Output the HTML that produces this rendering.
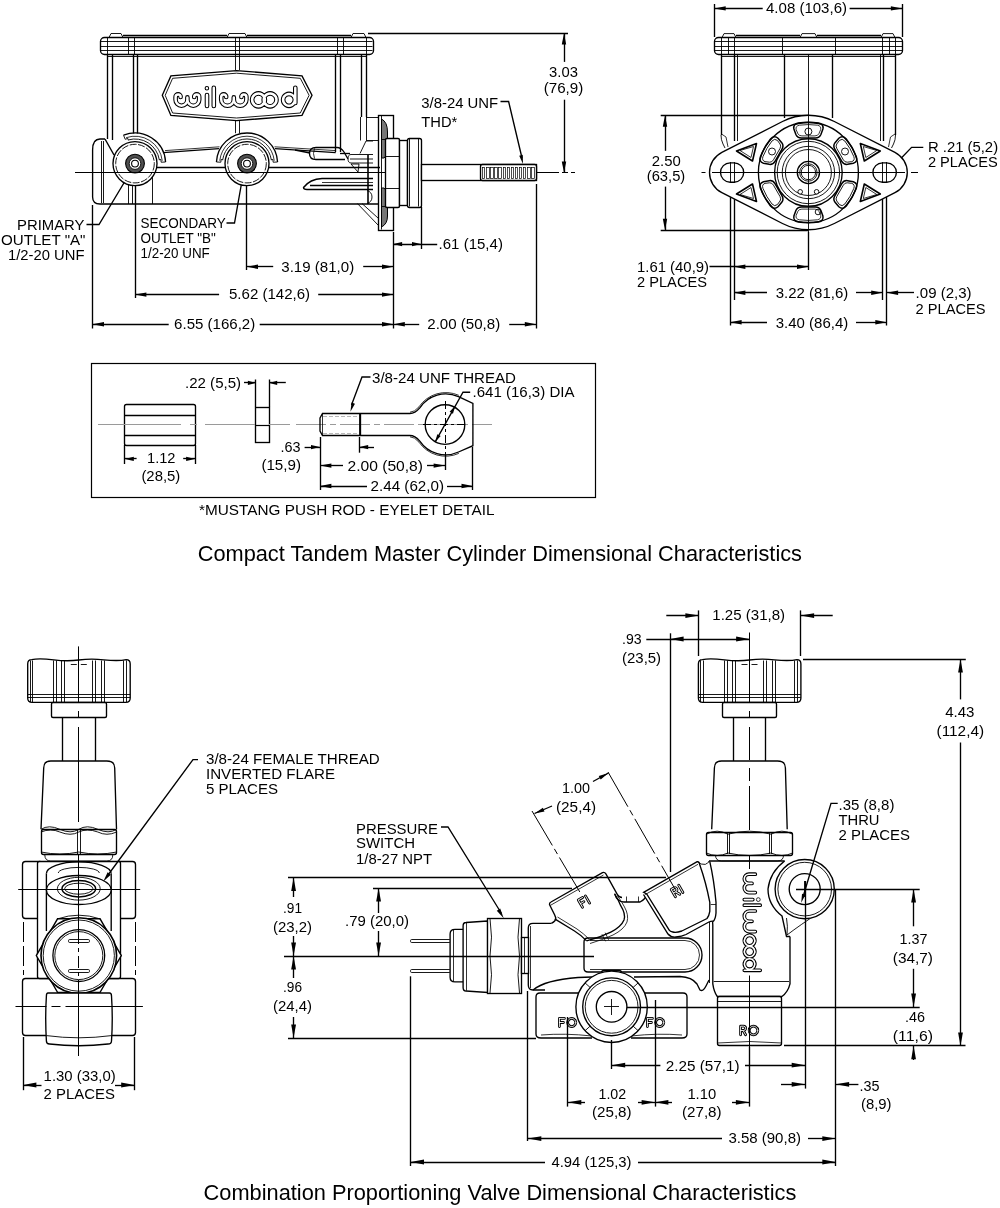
<!DOCTYPE html>
<html><head><meta charset="utf-8"><style>
html,body{margin:0;padding:0;background:#fff;width:1000px;height:1208px;overflow:hidden}
svg{display:block;will-change:transform}
text{font-family:"Liberation Sans",sans-serif;fill:#000;stroke:none}
</style></head><body>
<svg width="1000" height="1208" viewBox="0 0 1000 1208" stroke="#000" stroke-linecap="butt" fill="none">
<text x="84.5" y="229.5" font-size="15" text-anchor="end" textLength="67.5" lengthAdjust="spacingAndGlyphs" >PRIMARY</text>
<text x="85.5" y="245" font-size="15" text-anchor="end" textLength="84.5" lengthAdjust="spacingAndGlyphs" >OUTLET &quot;A&quot;</text>
<text x="84.5" y="260" font-size="15" text-anchor="end" textLength="76.5" lengthAdjust="spacingAndGlyphs" >1/2-20 UNF</text>
<polyline points="86.5,224.5 99,224.5 130.5,172" fill="none" stroke-width="1.35" />
<polygon points="131.5,170.5 128.4,179.14 125.32,177.28" fill="#000" stroke="none"/>
<text x="140.5" y="227.8" font-size="15" textLength="85.3" lengthAdjust="spacingAndGlyphs" >SECONDARY</text>
<text x="140.5" y="243" font-size="15" textLength="75.4" lengthAdjust="spacingAndGlyphs" >OUTLET &quot;B&quot;</text>
<text x="140.5" y="258.4" font-size="15" textLength="69.3" lengthAdjust="spacingAndGlyphs" >1/2-20 UNF</text>
<polyline points="226.5,223 234.5,223 243,175" fill="none" stroke-width="1.35" />
<polygon points="243.6,171.5 243.81,180.68 240.26,180.05" fill="#000" stroke="none"/>
<line x1="135.5" y1="168" x2="135.5" y2="298" stroke-width="1.35" />
<line x1="246.5" y1="168" x2="246.5" y2="270" stroke-width="1.35" />
<line x1="92.5" y1="205" x2="92.5" y2="328.5" stroke-width="1.35" />
<line x1="393.5" y1="232" x2="393.5" y2="328.5" stroke-width="1.35" />
<line x1="536.5" y1="184" x2="536.5" y2="328.5" stroke-width="1.35" />
<line x1="421.5" y1="207" x2="421.5" y2="249" stroke-width="1.35" />
<line x1="246.6" y1="266.5" x2="273.2" y2="266.5" stroke-width="1.35" />
<line x1="363.2" y1="266.5" x2="393.4" y2="266.5" stroke-width="1.35" />
<polygon points="246.6,266.7 258,264.5 258,268.9" fill="#000" stroke="none"/>
<polygon points="393.4,266.7 382,268.9 382,264.5" fill="#000" stroke="none"/>
<text x="281.3" y="271.6" font-size="15" textLength="72.9" lengthAdjust="spacingAndGlyphs" >3.19 (81,0)</text>
<line x1="135" y1="294.5" x2="219.1" y2="294.5" stroke-width="1.35" />
<line x1="318.2" y1="294.5" x2="393.4" y2="294.5" stroke-width="1.35" />
<polygon points="135,294.6 146.4,292.4 146.4,296.8" fill="#000" stroke="none"/>
<polygon points="393.4,294.6 382,296.8 382,292.4" fill="#000" stroke="none"/>
<text x="229" y="299.2" font-size="15" textLength="81.1" lengthAdjust="spacingAndGlyphs" >5.62 (142,6)</text>
<line x1="92.6" y1="324.5" x2="168.7" y2="324.5" stroke-width="1.35" />
<line x1="259.7" y1="324.5" x2="393.4" y2="324.5" stroke-width="1.35" />
<polygon points="92.6,324.2 104,322 104,326.4" fill="#000" stroke="none"/>
<polygon points="393.4,324.2 382,326.4 382,322" fill="#000" stroke="none"/>
<text x="174.1" y="329.2" font-size="15" textLength="81.1" lengthAdjust="spacingAndGlyphs" >6.55 (166,2)</text>
<line x1="393.4" y1="324.5" x2="419.2" y2="324.5" stroke-width="1.35" />
<line x1="509.2" y1="324.5" x2="536.2" y2="324.5" stroke-width="1.35" />
<polygon points="393.4,324.2 404.8,322 404.8,326.4" fill="#000" stroke="none"/>
<polygon points="536.2,324.2 524.8,326.4 524.8,322" fill="#000" stroke="none"/>
<text x="427.3" y="329.2" font-size="15" textLength="72.9" lengthAdjust="spacingAndGlyphs" >2.00 (50,8)</text>
<line x1="393.1" y1="244.5" x2="437.2" y2="244.5" stroke-width="1.35" />
<polygon points="393.1,244.1 402.1,241.9 402.1,246.3" fill="#000" stroke="none"/>
<polygon points="421,244.1 412,246.3 412,241.9" fill="#000" stroke="none"/>
<text x="438.6" y="249" font-size="15" textLength="64.3" lengthAdjust="spacingAndGlyphs" >.61 (15,4)</text>
<line x1="368" y1="33.5" x2="568" y2="33.5" stroke-width="1.35" />
<line x1="564.5" y1="33.1" x2="564.5" y2="61.9" stroke-width="1.35" />
<line x1="564.5" y1="99.7" x2="564.5" y2="173" stroke-width="1.35" />
<polygon points="564,33.1 566.2,44.5 561.8,44.5" fill="#000" stroke="none"/>
<polygon points="564,173 561.8,161.6 566.2,161.6" fill="#000" stroke="none"/>
<text x="563.5" y="77.2" font-size="15" text-anchor="middle" textLength="28.8" lengthAdjust="spacingAndGlyphs" >3.03</text>
<text x="563.5" y="92.5" font-size="15" text-anchor="middle" textLength="39.6" lengthAdjust="spacingAndGlyphs" >(76,9)</text>
<text x="421.3" y="108.2" font-size="15" textLength="76.9" lengthAdjust="spacingAndGlyphs" >3/8-24 UNF</text>
<text x="421.3" y="126.7" font-size="15" textLength="36" lengthAdjust="spacingAndGlyphs" >THD*</text>
<polyline points="500.5,101.5 508.6,101.5 522,158" fill="none" stroke-width="1.35" />
<polygon points="523,164 519.23,155.63 522.73,154.83" fill="#000" stroke="none"/>
<line x1="714.5" y1="4" x2="714.5" y2="37" stroke-width="1.35" />
<line x1="902.5" y1="4" x2="902.5" y2="37" stroke-width="1.35" />
<line x1="714.3" y1="8.5" x2="762.7" y2="8.5" stroke-width="1.35" />
<line x1="849.6" y1="8.5" x2="902.3" y2="8.5" stroke-width="1.35" />
<polygon points="714.3,8.4 725.7,6.2 725.7,10.6" fill="#000" stroke="none"/>
<polygon points="902.3,8.4 890.9,10.6 890.9,6.2" fill="#000" stroke="none"/>
<text x="766" y="13.4" font-size="15" textLength="81" lengthAdjust="spacingAndGlyphs" >4.08 (103,6)</text>
<line x1="660.7" y1="115.5" x2="808" y2="115.5" stroke-width="1.35" />
<line x1="660.7" y1="230.5" x2="808" y2="230.5" stroke-width="1.35" />
<line x1="665.5" y1="115.3" x2="665.5" y2="150.8" stroke-width="1.35" />
<line x1="665.5" y1="186.6" x2="665.5" y2="230.1" stroke-width="1.35" />
<polygon points="665,115.3 667.2,126.7 662.8,126.7" fill="#000" stroke="none"/>
<polygon points="665,230.1 662.8,218.7 667.2,218.7" fill="#000" stroke="none"/>
<text x="666.3" y="165.9" font-size="15" text-anchor="middle" textLength="29" lengthAdjust="spacingAndGlyphs" >2.50</text>
<text x="666" y="181" font-size="15" text-anchor="middle" textLength="38.5" lengthAdjust="spacingAndGlyphs" >(63,5)</text>
<text x="927.9" y="151.5" font-size="15" textLength="70.2" lengthAdjust="spacingAndGlyphs" >R .21 (5,2)</text>
<text x="927.9" y="166.8" font-size="15" textLength="70" lengthAdjust="spacingAndGlyphs" >2 PLACES</text>
<polyline points="923.3,147.3 911.6,147.3 897,162.5" fill="none" stroke-width="1.35" />
<polygon points="894.7,165.3 899.55,157.51 902.17,159.97" fill="#000" stroke="none"/>
<line x1="730.5" y1="172" x2="730.5" y2="325.5" stroke-width="1.35" />
<line x1="734.5" y1="180" x2="734.5" y2="300" stroke-width="1.35" />
<line x1="882.5" y1="180" x2="882.5" y2="300" stroke-width="1.35" />
<line x1="886.5" y1="172" x2="886.5" y2="325.5" stroke-width="1.35" />
<line x1="808.5" y1="232" x2="808.5" y2="270" stroke-width="1.35" />
<line x1="709.5" y1="266.5" x2="808.4" y2="266.5" stroke-width="1.35" />
<polygon points="734,266.8 745.4,264.6 745.4,269" fill="#000" stroke="none"/>
<polygon points="808.4,266.8 797,269 797,264.6" fill="#000" stroke="none"/>
<text x="637" y="271.8" font-size="15" textLength="72" lengthAdjust="spacingAndGlyphs" >1.61 (40,9)</text>
<text x="637" y="286.5" font-size="15" textLength="70" lengthAdjust="spacingAndGlyphs" >2 PLACES</text>
<line x1="734" y1="292.5" x2="767" y2="292.5" stroke-width="1.35" />
<line x1="856" y1="292.5" x2="882.6" y2="292.5" stroke-width="1.35" />
<polygon points="734,292.7 745.4,290.5 745.4,294.9" fill="#000" stroke="none"/>
<polygon points="882.6,292.7 871.2,294.9 871.2,290.5" fill="#000" stroke="none"/>
<text x="775.8" y="298.4" font-size="15" textLength="72.4" lengthAdjust="spacingAndGlyphs" >3.22 (81,6)</text>
<line x1="886.7" y1="292.5" x2="914" y2="292.5" stroke-width="1.35" />
<polygon points="886.7,292.7 898.1,290.5 898.1,294.9" fill="#000" stroke="none"/>
<text x="915.6" y="298.4" font-size="15" textLength="56" lengthAdjust="spacingAndGlyphs" >.09 (2,3)</text>
<text x="915.6" y="313.6" font-size="15" textLength="70" lengthAdjust="spacingAndGlyphs" >2 PLACES</text>
<line x1="730.2" y1="322.5" x2="767" y2="322.5" stroke-width="1.35" />
<line x1="856" y1="322.5" x2="886.7" y2="322.5" stroke-width="1.35" />
<polygon points="730.2,322.3 741.6,320.1 741.6,324.5" fill="#000" stroke="none"/>
<polygon points="886.7,322.3 875.3,324.5 875.3,320.1" fill="#000" stroke="none"/>
<text x="775.8" y="328" font-size="15" textLength="72.4" lengthAdjust="spacingAndGlyphs" >3.40 (86,4)</text>
<rect x="91.5" y="363.5" width="504" height="134" rx="0" fill="none" stroke-width="1.2" />
<rect x="100.5" y="37.5" width="273" height="17" rx="4" fill="none" stroke-width="1.35" />
<line x1="101" y1="41.5" x2="372.5" y2="41.5" stroke-width="0.9" />
<line x1="101" y1="46.5" x2="372.5" y2="46.5" stroke-width="0.9" />
<line x1="101" y1="50.5" x2="372.5" y2="50.5" stroke-width="0.9" />
<line x1="107.5" y1="38" x2="107.5" y2="54" stroke-width="0.9" />
<line x1="128.5" y1="38" x2="128.5" y2="54" stroke-width="0.9" />
<line x1="134.5" y1="38" x2="134.5" y2="54" stroke-width="0.9" />
<line x1="235.5" y1="38" x2="235.5" y2="54" stroke-width="0.9" />
<line x1="239.5" y1="38" x2="239.5" y2="54" stroke-width="0.9" />
<line x1="337.5" y1="38" x2="337.5" y2="54" stroke-width="0.9" />
<line x1="343.5" y1="38" x2="343.5" y2="54" stroke-width="0.9" />
<line x1="366.5" y1="38" x2="366.5" y2="54" stroke-width="0.9" />
<path d="M109,37.5 L111,33.5 L121,33.5 L123,37.5" fill="none" stroke-width="0.9" />
<path d="M227,37.5 L229,33.5 L245,33.5 L247,37.5" fill="none" stroke-width="0.9" />
<path d="M351,37.5 L353,33.5 L364,33.5 L366,37.5" fill="none" stroke-width="0.9" />
<line x1="123" y1="35.5" x2="227" y2="35.5" stroke-width="1.6" />
<line x1="247" y1="35.5" x2="351" y2="35.5" stroke-width="1.6" />
<line x1="107.5" y1="54" x2="107.5" y2="135" stroke-width="1.35" />
<line x1="112.5" y1="54" x2="112.5" y2="140" stroke-width="1.35" />
<line x1="133.5" y1="54" x2="133.5" y2="133.5" stroke-width="1.35" />
<line x1="137.5" y1="54" x2="137.5" y2="133.5" stroke-width="1.35" />
<line x1="235.5" y1="54" x2="235.5" y2="70" stroke-width="0.9" />
<line x1="239.5" y1="54" x2="239.5" y2="70" stroke-width="0.9" />
<line x1="235.5" y1="120.6" x2="235.5" y2="133.2" stroke-width="0.9" />
<line x1="239.5" y1="120.6" x2="239.5" y2="133.2" stroke-width="0.9" />
<line x1="335.5" y1="54" x2="335.5" y2="152" stroke-width="1.35" />
<line x1="340.5" y1="54" x2="340.5" y2="152" stroke-width="1.35" />
<line x1="361.5" y1="54" x2="361.5" y2="117" stroke-width="1.35" />
<line x1="366.5" y1="54" x2="366.5" y2="117" stroke-width="1.35" />
<polygon points="162.3,95.3 170.9,75.9 236.5,70.6 302,75.9 312,95.3 302,115.4 236.5,120.6 170.9,115.4" fill="none" stroke-width="1.35" />
<polygon points="165.2,95.3 172.6,78.3 236.5,73.2 300.3,78.3 309.1,95.3 300.3,113 236.5,118 172.6,113" fill="none" stroke-width="0.9" />
<path d="M180.6,96.9 A2.5,2.5 0 0 0 175.6,96.9 L175.6,99.8 A5.9,5.9 0 0 0 187.4,99.8 L187.4,97.4 M187.4,99.8 A5.9,5.9 0 0 0 199.2,99.8 L199.2,96.9 A2.5,2.5 0 0 0 194.2,96.9 M207,95 L207,105.9 M206.9,88.3 L206.9,88.31 M213.8,87.7 L213.8,105.9 M226.2,96.9 A2.5,2.5 0 0 0 221.2,96.9 L221.2,99.4 A6.3,6.3 0 0 0 233.8,99.4 L233.8,97.4 M233.8,99.4 A6.3,6.3 0 0 0 246.4,99.4 L246.4,96.9 A2.5,2.5 0 0 0 241.4,96.9 M264.9,99.85 A6.4,6.4 0 1 0 264.9,99.86 M276.5,99.85 A6.4,6.4 0 1 0 276.5,99.86 M294.9,99.85 A5.9,5.9 0 1 0 294.9,99.86 M295.3,87.8 L295.3,103" fill="none" stroke-width="4.6" stroke-linecap="round"/>
<path d="M180.6,96.9 A2.5,2.5 0 0 0 175.6,96.9 L175.6,99.8 A5.9,5.9 0 0 0 187.4,99.8 L187.4,97.4 M187.4,99.8 A5.9,5.9 0 0 0 199.2,99.8 L199.2,96.9 A2.5,2.5 0 0 0 194.2,96.9 M207,95 L207,105.9 M206.9,88.3 L206.9,88.31 M213.8,87.7 L213.8,105.9 M226.2,96.9 A2.5,2.5 0 0 0 221.2,96.9 L221.2,99.4 A6.3,6.3 0 0 0 233.8,99.4 L233.8,97.4 M233.8,99.4 A6.3,6.3 0 0 0 246.4,99.4 L246.4,96.9 A2.5,2.5 0 0 0 241.4,96.9 M264.9,99.85 A6.4,6.4 0 1 0 264.9,99.86 M276.5,99.85 A6.4,6.4 0 1 0 276.5,99.86 M294.9,99.85 A5.9,5.9 0 1 0 294.9,99.86 M295.3,87.8 L295.3,103" fill="none" stroke-width="2.5" stroke="#fff" stroke-linecap="round"/>
<path d="M105,139 L100,139 Q92.6,139 92.6,150 L92.6,197 Q92.6,204 100,204 L378,204" fill="none" stroke-width="1.35" />
<line x1="101.5" y1="141" x2="101.5" y2="203" stroke-width="0.9" />
<line x1="103.5" y1="141" x2="103.5" y2="203" stroke-width="0.9" />
<line x1="152" y1="167.5" x2="380" y2="167.5" stroke-width="1.35" />
<path d="M105,139 L114,155" fill="none" stroke-width="1.35" />
<line x1="107.5" y1="135" x2="107.5" y2="139" stroke-width="1.35" />
<path d="M163,152.6 L219,148.6" fill="none" stroke-width="1.35" />
<path d="M165,150.6 L219.5,146.8" fill="none" stroke-width="0.8" />
<path d="M275,148.6 L335.7,152.6" fill="none" stroke-width="1.35" />
<path d="M274.5,146.8 L335.7,150.6" fill="none" stroke-width="0.8" />
<line x1="340" y1="153.5" x2="350" y2="153.5" stroke-width="1.35" />
<line x1="128.5" y1="185" x2="128.5" y2="204" stroke-width="0.9" />
<line x1="132.5" y1="185" x2="132.5" y2="204" stroke-width="0.9" />
<line x1="152.5" y1="167" x2="152.5" y2="204" stroke-width="0.9" />
<path d="M123.54,135.23 A30.6,30.6 0 0 1 165.56,162" fill="none" stroke-width="1.35" />
<path d="M126.08,137.69 A27.4,27.4 0 0 1 162.25,160.74" fill="none" stroke-width="0.8" />
<path d="M128.22,139.95 A24.6,24.6 0 0 1 159.3,159.75" fill="none" stroke-width="0.9" />
<path d="M123.54,135.23 L125.19,139.31 L127.78,138.41 L128.33,140.34" fill="none" stroke-width="0.9" />
<path d="M165.56,162 L161.16,162.23 L160.88,159.5 L158.9,159.81" fill="none" stroke-width="0.9" />
<path d="M216.44,162 A30.6,30.6 0 0 1 277.56,162" fill="none" stroke-width="1.35" />
<path d="M219.75,160.74 A27.4,27.4 0 0 1 274.25,160.74" fill="none" stroke-width="0.8" />
<path d="M222.7,159.75 A24.6,24.6 0 0 1 271.3,159.75" fill="none" stroke-width="0.9" />
<path d="M216.44,162 L220.84,162.23 L221.12,159.5 L223.1,159.81" fill="none" stroke-width="0.9" />
<path d="M277.56,162 L273.16,162.23 L272.88,159.5 L270.9,159.81" fill="none" stroke-width="0.9" />
<circle cx="135" cy="163.6" r="22" fill="#fff" stroke-width="1.35" />
<circle cx="135" cy="163.6" r="19.3" fill="none" stroke-width="0.9" stroke-dasharray="7 1.5"/>
<circle cx="135" cy="163.6" r="7.6" fill="none" stroke-width="3.6" stroke="#505050"/>
<circle cx="135" cy="163.6" r="9.4" fill="none" stroke-width="1.1" />
<circle cx="135" cy="163.6" r="5.8" fill="none" stroke-width="0.9" />
<circle cx="135" cy="163.6" r="3.4" fill="none" stroke-width="1.1" />
<circle cx="247" cy="163.6" r="22" fill="#fff" stroke-width="1.35" />
<circle cx="247" cy="163.6" r="19.3" fill="none" stroke-width="0.9" stroke-dasharray="7 1.5"/>
<circle cx="247" cy="163.6" r="7.6" fill="none" stroke-width="3.6" stroke="#505050"/>
<circle cx="247" cy="163.6" r="9.4" fill="none" stroke-width="1.1" />
<circle cx="247" cy="163.6" r="5.8" fill="none" stroke-width="0.9" />
<circle cx="247" cy="163.6" r="3.4" fill="none" stroke-width="1.1" />
<line x1="75" y1="172.5" x2="545" y2="172.5" stroke-width="1.0" />
<line x1="545" y1="172.5" x2="575" y2="172.5" stroke-width="1.0" stroke-dasharray="14 3 6 3" stroke="#000"/>
<rect x="366.5" y="117.5" width="12" height="23" rx="0" fill="none" stroke-width="0.9" />
<line x1="357.4" y1="203.5" x2="378" y2="225" stroke-width="0.9" />
<line x1="362" y1="203.5" x2="378" y2="218" stroke-width="0.9" />
<rect x="378.5" y="115.5" width="15" height="115" rx="0" fill="none" stroke-width="1.35" />
<line x1="381.5" y1="116" x2="381.5" y2="229.5" stroke-width="0.9" />
<path d="M381.5,119 Q387.5,122 387.5,132 L387.5,150 Q387.5,156 384,158 L381.5,158 Z" fill="#777" stroke-width="1.0" />
<path d="M381.5,188 L384,188 Q387.5,190 387.5,196 L387.5,216 Q387.5,224 381.5,227 Z" fill="#777" stroke-width="1.0" />
<line x1="381.5" y1="139.5" x2="386" y2="139.5" stroke-width="0.9" />
<line x1="381.5" y1="206.5" x2="386" y2="206.5" stroke-width="0.9" />
<rect x="385.5" y="138.5" width="14" height="69" rx="1.5" fill="#fff" stroke-width="1.35" />
<line x1="385.8" y1="156.5" x2="399.7" y2="156.5" stroke-width="0.9" />
<line x1="385.8" y1="188.5" x2="399.7" y2="188.5" stroke-width="0.9" />
<rect x="399.5" y="140.5" width="8" height="65" rx="0" fill="#fff" stroke-width="1.35" />
<rect x="407.5" y="138.5" width="14" height="69" rx="2" fill="#fff" stroke-width="1.35" />
<line x1="409.5" y1="139" x2="409.5" y2="206.5" stroke-width="0.9" />
<line x1="418.5" y1="139" x2="418.5" y2="206.5" stroke-width="0.9" />
<rect x="421.5" y="164.5" width="115" height="16" rx="0" fill="#fff" stroke-width="1.35" />
<rect x="480.5" y="164.5" width="56" height="16" rx="2" fill="#fff" stroke-width="1.35" />
<rect x="482.5" y="167.5" width="2" height="11" rx="0" fill="none" stroke-width="0.7" />
<rect x="486.5" y="167.5" width="3" height="11" rx="0" fill="none" stroke-width="0.7" />
<rect x="490.5" y="167.5" width="3" height="11" rx="0" fill="none" stroke-width="0.7" />
<rect x="494.5" y="167.5" width="3" height="11" rx="0" fill="none" stroke-width="0.7" />
<rect x="498.5" y="167.5" width="3" height="11" rx="0" fill="none" stroke-width="0.7" />
<rect x="503.5" y="167.5" width="2" height="11" rx="0" fill="none" stroke-width="0.7" />
<rect x="507.5" y="167.5" width="2" height="11" rx="0" fill="none" stroke-width="0.7" />
<rect x="511.5" y="167.5" width="2" height="11" rx="0" fill="none" stroke-width="0.7" />
<rect x="515.5" y="167.5" width="2" height="11" rx="0" fill="none" stroke-width="0.7" />
<rect x="519.5" y="167.5" width="2" height="11" rx="0" fill="none" stroke-width="0.7" />
<rect x="523.5" y="167.5" width="2" height="11" rx="0" fill="none" stroke-width="0.7" />
<rect x="527.5" y="167.5" width="3" height="11" rx="0" fill="none" stroke-width="0.7" />
<rect x="531.5" y="167.5" width="3" height="11" rx="0" fill="none" stroke-width="0.7" />
<path d="M295,150 L310,153" fill="none" stroke-width="1.35" />
<path d="M337,147.5 L316,147.5 Q309.5,147.5 309.5,153.5 Q309.5,159.5 316,159.5 L345,159.5" fill="none" stroke-width="1.35" />
<path d="M314.5,148.5 Q312.5,153.5 314.5,158.5" fill="none" stroke-width="0.8" />
<path d="M337,147.5 Q341,147.5 344,152 L348,159" fill="none" stroke-width="1.35" />
<path d="M373,154.5 L351,154.5 Q348,154.5 348,158.7 Q348,163 351,163 L373,163 M350,159 L373,159" fill="none" stroke-width="0.9" />
<path d="M360,153.5 L366,141 L373,141" fill="none" stroke-width="0.9" />
<polygon points="351,164 359,164 358,172" fill="none" stroke-width="0.9" />
<path d="M373,178.5 L322,178.5 Q310,179 303.5,187.5 Q303.5,189.5 307,189.5 L373,189.5" fill="none" stroke-width="1.35" />
<line x1="322" y1="182.5" x2="373" y2="182.5" stroke-width="0.8" />
<line x1="310" y1="185.5" x2="373" y2="185.5" stroke-width="1.6" />
<path d="M367,190.5 Q372,192 372,197 Q372,202 367,203.5" fill="none" stroke-width="0.9" />
<line x1="367.5" y1="155" x2="367.5" y2="204" stroke-width="0.8" />
<line x1="368.5" y1="155" x2="368.5" y2="204" stroke-width="0.8" />
<line x1="360.5" y1="117" x2="360.5" y2="140.5" stroke-width="0.9" />
<rect x="714.5" y="37.5" width="188" height="17" rx="4" fill="none" stroke-width="1.35" />
<line x1="715" y1="41.5" x2="902" y2="41.5" stroke-width="0.9" />
<line x1="715" y1="46.5" x2="902" y2="46.5" stroke-width="0.9" />
<line x1="715" y1="50.5" x2="902" y2="50.5" stroke-width="0.9" />
<line x1="721.5" y1="38" x2="721.5" y2="54" stroke-width="0.9" />
<line x1="728.5" y1="38" x2="728.5" y2="54" stroke-width="0.9" />
<line x1="734.5" y1="38" x2="734.5" y2="54" stroke-width="0.9" />
<line x1="782.5" y1="38" x2="782.5" y2="54" stroke-width="0.9" />
<line x1="835.5" y1="38" x2="835.5" y2="54" stroke-width="0.9" />
<line x1="882.5" y1="38" x2="882.5" y2="54" stroke-width="0.9" />
<line x1="889.5" y1="38" x2="889.5" y2="54" stroke-width="0.9" />
<line x1="895.5" y1="38" x2="895.5" y2="54" stroke-width="0.9" />
<path d="M722,37.6 L724,33.6 L734,33.6 L736,37.6" fill="none" stroke-width="0.9" />
<path d="M800,37.6 L802,33.6 L815,33.6 L817,37.6" fill="none" stroke-width="0.9" />
<path d="M881,37.6 L883,33.6 L893,33.6 L895,37.6" fill="none" stroke-width="0.9" />
<line x1="736" y1="35.5" x2="800" y2="35.5" stroke-width="1.6" />
<line x1="817" y1="35.5" x2="881" y2="35.5" stroke-width="1.6" />
<line x1="721.5" y1="54" x2="721.5" y2="135" stroke-width="1.35" />
<line x1="895.5" y1="54" x2="895.5" y2="135" stroke-width="1.35" />
<path d="M721,135 Q721,140 723,144 L725,148" fill="none" stroke-width="0.9" />
<path d="M895.5,135 Q895.5,140 893.5,144 L891.5,148" fill="none" stroke-width="0.9" />
<path d="M721.5,134 L726,137 L728,147" fill="none" stroke-width="0.8" />
<path d="M895,134 L890.5,137 L888.5,147" fill="none" stroke-width="0.8" />
<line x1="734.5" y1="54" x2="734.5" y2="141" stroke-width="1.35" />
<line x1="737.5" y1="54" x2="737.5" y2="141" stroke-width="0.9" />
<line x1="880.5" y1="54" x2="880.5" y2="141" stroke-width="0.9" />
<line x1="883.5" y1="54" x2="883.5" y2="141" stroke-width="1.35" />
<line x1="784.5" y1="54" x2="784.5" y2="118" stroke-width="1.35" />
<line x1="832.5" y1="54" x2="832.5" y2="118" stroke-width="1.35" />
<line x1="808.5" y1="54" x2="808.5" y2="240" stroke-width="0.9" />
<path d="M721.85,152.36 L782.46,121.52 A57.2,57.2 0 0 1 834.34,121.52 L894.95,152.36 A22.6,22.6 0 0 1 894.95,192.64 L834.34,223.48 A57.2,57.2 0 0 1 782.46,223.48 L721.85,192.64 A22.6,22.6 0 0 1 721.85,152.36 Z" fill="#fff" stroke-width="1.35" />
<path d="M730.2,162.8 L734,162.8 A9.7,9.7 0 0 1 734,182.2 L730.2,182.2 A9.7,9.7 0 0 1 730.2,162.8 Z" fill="none" stroke-width="1.35" />
<path d="M882.6,162.8 L886.7,162.8 A9.7,9.7 0 0 1 886.7,182.2 L882.6,182.2 A9.7,9.7 0 0 1 882.6,162.8 Z" fill="none" stroke-width="1.35" />
<path d="M736.5,151 L756.5,143.5 L752.5,161 Z" fill="none" stroke-width="1.6" stroke-linejoin="round"/>
<path d="M740,150.5 L753.5,146.5 L751,157.5 Z" fill="none" stroke-width="0.8" stroke-linejoin="round"/>
<path d="M736.5,194 L752.5,184 L756.5,201.5 Z" fill="none" stroke-width="1.6" stroke-linejoin="round"/>
<path d="M740,194.5 L751,187.5 L753.5,198.5 Z" fill="none" stroke-width="0.8" stroke-linejoin="round"/>
<path d="M880.3,151 L860.3,143.5 L864.3,161 Z" fill="none" stroke-width="1.6" stroke-linejoin="round"/>
<path d="M876.8,150.5 L863.3,146.5 L865.8,157.5 Z" fill="none" stroke-width="0.8" stroke-linejoin="round"/>
<path d="M880.3,194 L864.3,184 L860.3,201.5 Z" fill="none" stroke-width="1.6" stroke-linejoin="round"/>
<path d="M876.8,194.5 L865.8,187.5 L863.3,198.5 Z" fill="none" stroke-width="0.8" stroke-linejoin="round"/>
<circle cx="808.4" cy="172.5" r="50" fill="none" stroke-width="1.35" />
<g transform="translate(808.4,172.5) rotate(0)">
<path d="M-10,-49.5 Q0,-51 10,-49.5 Q15.5,-48.5 14.5,-43.5 L12.5,-38 Q11,-34.5 7,-34.5 L-7,-34.5 Q-11,-34.5 -12.5,-38 L-14.5,-43.5 Q-15.5,-48.5 -10,-49.5 Z" fill="none" stroke-width="1.5" />
<path d="M-9,-47.3 Q0,-48.6 9,-47.3 Q13,-46.5 12.3,-43 L10.5,-38.8 Q9.5,-36.6 6.5,-36.6 L-6.5,-36.6 Q-9.5,-36.6 -10.5,-38.8 L-12.3,-43 Q-13,-46.5 -9,-47.3 Z" fill="none" stroke-width="0.8" />
</g>
<g transform="translate(808.4,172.5) rotate(60)">
<path d="M-10,-49.5 Q0,-51 10,-49.5 Q15.5,-48.5 14.5,-43.5 L12.5,-38 Q11,-34.5 7,-34.5 L-7,-34.5 Q-11,-34.5 -12.5,-38 L-14.5,-43.5 Q-15.5,-48.5 -10,-49.5 Z" fill="none" stroke-width="1.5" />
<path d="M-9,-47.3 Q0,-48.6 9,-47.3 Q13,-46.5 12.3,-43 L10.5,-38.8 Q9.5,-36.6 6.5,-36.6 L-6.5,-36.6 Q-9.5,-36.6 -10.5,-38.8 L-12.3,-43 Q-13,-46.5 -9,-47.3 Z" fill="none" stroke-width="0.8" />
</g>
<g transform="translate(808.4,172.5) rotate(120)">
<path d="M-10,-49.5 Q0,-51 10,-49.5 Q15.5,-48.5 14.5,-43.5 L12.5,-38 Q11,-34.5 7,-34.5 L-7,-34.5 Q-11,-34.5 -12.5,-38 L-14.5,-43.5 Q-15.5,-48.5 -10,-49.5 Z" fill="none" stroke-width="1.5" />
<path d="M-9,-47.3 Q0,-48.6 9,-47.3 Q13,-46.5 12.3,-43 L10.5,-38.8 Q9.5,-36.6 6.5,-36.6 L-6.5,-36.6 Q-9.5,-36.6 -10.5,-38.8 L-12.3,-43 Q-13,-46.5 -9,-47.3 Z" fill="none" stroke-width="0.8" />
</g>
<g transform="translate(808.4,172.5) rotate(180)">
<path d="M-10,-49.5 Q0,-51 10,-49.5 Q15.5,-48.5 14.5,-43.5 L12.5,-38 Q11,-34.5 7,-34.5 L-7,-34.5 Q-11,-34.5 -12.5,-38 L-14.5,-43.5 Q-15.5,-48.5 -10,-49.5 Z" fill="none" stroke-width="1.5" />
<path d="M-9,-47.3 Q0,-48.6 9,-47.3 Q13,-46.5 12.3,-43 L10.5,-38.8 Q9.5,-36.6 6.5,-36.6 L-6.5,-36.6 Q-9.5,-36.6 -10.5,-38.8 L-12.3,-43 Q-13,-46.5 -9,-47.3 Z" fill="none" stroke-width="0.8" />
</g>
<g transform="translate(808.4,172.5) rotate(240)">
<path d="M-10,-49.5 Q0,-51 10,-49.5 Q15.5,-48.5 14.5,-43.5 L12.5,-38 Q11,-34.5 7,-34.5 L-7,-34.5 Q-11,-34.5 -12.5,-38 L-14.5,-43.5 Q-15.5,-48.5 -10,-49.5 Z" fill="none" stroke-width="1.5" />
<path d="M-9,-47.3 Q0,-48.6 9,-47.3 Q13,-46.5 12.3,-43 L10.5,-38.8 Q9.5,-36.6 6.5,-36.6 L-6.5,-36.6 Q-9.5,-36.6 -10.5,-38.8 L-12.3,-43 Q-13,-46.5 -9,-47.3 Z" fill="none" stroke-width="0.8" />
</g>
<g transform="translate(808.4,172.5) rotate(300)">
<path d="M-10,-49.5 Q0,-51 10,-49.5 Q15.5,-48.5 14.5,-43.5 L12.5,-38 Q11,-34.5 7,-34.5 L-7,-34.5 Q-11,-34.5 -12.5,-38 L-14.5,-43.5 Q-15.5,-48.5 -10,-49.5 Z" fill="none" stroke-width="1.5" />
<path d="M-9,-47.3 Q0,-48.6 9,-47.3 Q13,-46.5 12.3,-43 L10.5,-38.8 Q9.5,-36.6 6.5,-36.6 L-6.5,-36.6 Q-9.5,-36.6 -10.5,-38.8 L-12.3,-43 Q-13,-46.5 -9,-47.3 Z" fill="none" stroke-width="0.8" />
</g>
<circle cx="808.4" cy="131.5" r="3.5" fill="none" stroke-width="0.9" />
<circle cx="772" cy="151.5" r="3.5" fill="none" stroke-width="0.9" />
<circle cx="845" cy="151.5" r="3.5" fill="none" stroke-width="0.9" />
<circle cx="818" cy="212" r="2.8" fill="none" stroke-width="0.9" />
<circle cx="808.4" cy="172.5" r="33.8" fill="#fff" stroke-width="1.35" />
<circle cx="808.4" cy="172.5" r="31.2" fill="none" stroke-width="0.9" />
<circle cx="808.4" cy="172.5" r="26.2" fill="none" stroke-width="0.9" />
<circle cx="808.4" cy="172.5" r="23" fill="none" stroke-width="0.9" />
<circle cx="800.2" cy="191.8" r="2.3" fill="#fff" stroke-width="0.9" />
<circle cx="816.6" cy="191.8" r="2.3" fill="#fff" stroke-width="0.9" />
<circle cx="808.4" cy="172.5" r="11.1" fill="none" stroke-width="1.35" />
<circle cx="808.4" cy="172.5" r="8.7" fill="none" stroke-width="0.9" />
<circle cx="808.4" cy="172.5" r="7.2" fill="none" stroke-width="0.9" />
<line x1="701.5" y1="172.5" x2="705.5" y2="172.5" stroke-width="1.0" />
<line x1="712" y1="172.5" x2="905" y2="172.5" stroke-width="1.0" />
<line x1="911" y1="172.5" x2="918" y2="172.5" stroke-width="1.0" />
<line x1="808.5" y1="116" x2="808.5" y2="230" stroke-width="0.9" />
<line x1="730.5" y1="162" x2="730.5" y2="183" stroke-width="0.9" />
<line x1="734.5" y1="162" x2="734.5" y2="183" stroke-width="0.9" />
<line x1="882.5" y1="162" x2="882.5" y2="183" stroke-width="0.9" />
<line x1="886.5" y1="162" x2="886.5" y2="183" stroke-width="0.9" />
<rect x="124.5" y="404.5" width="71" height="41" rx="2" fill="#fff" stroke-width="1.35" />
<line x1="124.8" y1="415.5" x2="195.1" y2="415.5" stroke-width="1.35" />
<line x1="124.8" y1="435.5" x2="195.1" y2="435.5" stroke-width="1.35" />
<line x1="124.5" y1="445" x2="124.5" y2="464" stroke-width="1.35" />
<line x1="195.5" y1="445" x2="195.5" y2="464" stroke-width="1.35" />
<line x1="124.8" y1="458.5" x2="136.6" y2="458.5" stroke-width="1.35" />
<line x1="183.2" y1="458.5" x2="195.1" y2="458.5" stroke-width="1.35" />
<polygon points="124.8,458.9 133.8,456.7 133.8,461.1" fill="#000" stroke="none"/>
<polygon points="195.1,458.9 186.1,461.1 186.1,456.7" fill="#000" stroke="none"/>
<text x="147" y="463.1" font-size="15" textLength="28.5" lengthAdjust="spacingAndGlyphs" >1.12</text>
<text x="141.4" y="481.2" font-size="15" textLength="38.9" lengthAdjust="spacingAndGlyphs" >(28,5)</text>
<rect x="255.5" y="407.5" width="14" height="35" rx="0" fill="#fff" stroke-width="1.35" />
<line x1="255.9" y1="425.5" x2="269.2" y2="425.5" stroke-width="1.2" />
<line x1="255.5" y1="379.5" x2="255.5" y2="407" stroke-width="1.35" />
<line x1="269.5" y1="379.5" x2="269.5" y2="407" stroke-width="1.35" />
<line x1="244" y1="382.5" x2="255.9" y2="382.5" stroke-width="1.35" />
<polygon points="255.9,382.9 247.9,385.1 247.9,380.7" fill="#000" stroke="none"/>
<line x1="269.2" y1="382.5" x2="285.8" y2="382.5" stroke-width="1.35" />
<polygon points="269.2,382.9 277.2,380.7 277.2,385.1" fill="#000" stroke="none"/>
<text x="185" y="387.5" font-size="15" textLength="56.1" lengthAdjust="spacingAndGlyphs" >.22 (5,5)</text>
<line x1="98" y1="424.5" x2="181" y2="424.5" stroke-width="1.0" stroke-dasharray="60 0" stroke="#9a9a9a"/>
<line x1="190" y1="424.5" x2="197" y2="424.5" stroke-width="1.0" stroke-dasharray="60 0" stroke="#9a9a9a"/>
<line x1="205" y1="424.5" x2="255" y2="424.5" stroke-width="1.0" stroke-dasharray="60 0" stroke="#9a9a9a"/>
<line x1="269" y1="424.5" x2="290" y2="424.5" stroke-width="1.0" stroke-dasharray="60 0" stroke="#9a9a9a"/>
<line x1="296" y1="424.5" x2="492" y2="424.5" stroke-width="1.0" stroke-dasharray="30 4 6 4" stroke="#9a9a9a"/>
<path d="M320,418 L322.5,413.5 L409.9,413.5 Q415,413.5 419.8,407.9 A31,31 0 0 1 458.5,396.7 L472.9,403.4 L472.9,445.7 L458.5,452 A31,31 0 0 1 419.8,441.1 Q415,435.5 409.9,435.5 L322.5,435.5 L320,431 Z" fill="none" stroke-width="1.35" />
<path d="M410,412.2 Q414.5,412.2 419,406.8 A32.3,32.3 0 0 1 458.8,395.3 M458.8,453.4 A32.3,32.3 0 0 1 419,442.2 Q414.5,436.8 410,436.8" fill="none" stroke-width="0.8" />
<line x1="322.5" y1="413.5" x2="322.5" y2="435.5" stroke-width="0.8" />
<line x1="359.5" y1="413.5" x2="359.5" y2="435.5" stroke-width="0.9" />
<line x1="360.5" y1="413.5" x2="360.5" y2="435.5" stroke-width="1.3" />
<line x1="323" y1="416.5" x2="358" y2="416.5" stroke-width="0.7" stroke="#9a9a9a" stroke-dasharray="4 2"/>
<line x1="323" y1="433.5" x2="358" y2="433.5" stroke-width="0.7" stroke="#9a9a9a" stroke-dasharray="4 2"/>
<circle cx="445" cy="424.5" r="19.8" fill="none" stroke-width="1.35" />
<line x1="423" y1="424.5" x2="467" y2="424.5" stroke-width="1.0" stroke-dasharray="8 3 3 3"/>
<line x1="445.5" y1="401" x2="445.5" y2="455" stroke-width="1.0" stroke-dasharray="8 3 3 3"/>
<line x1="445.5" y1="455" x2="445.5" y2="470" stroke-width="1.35" />
<polyline points="470.2,392.2 463,392.2 435.1,442.1" fill="none" stroke-width="1.35" />
<polygon points="435.1,442.1 437.35,434.19 440.66,436.04" fill="#000" stroke="none"/>
<polygon points="455.2,405.8 452.95,413.71 449.64,411.86" fill="#000" stroke="none"/>
<text x="472.5" y="396.6" font-size="15" textLength="102" lengthAdjust="spacingAndGlyphs" >.641 (16,3) DIA</text>
<line x1="320.5" y1="437" x2="320.5" y2="490" stroke-width="1.35" />
<line x1="359.5" y1="437" x2="359.5" y2="452.7" stroke-width="1.35" />
<line x1="304.6" y1="447.5" x2="320" y2="447.5" stroke-width="1.35" />
<polygon points="320,447.1 311,449.3 311,444.9" fill="#000" stroke="none"/>
<line x1="359.2" y1="447.5" x2="374" y2="447.5" stroke-width="1.35" />
<polygon points="359.2,447.1 368.2,444.9 368.2,449.3" fill="#000" stroke="none"/>
<text x="280.5" y="452.1" font-size="15" textLength="20" lengthAdjust="spacingAndGlyphs" >.63</text>
<text x="261.4" y="469.8" font-size="15" textLength="39.6" lengthAdjust="spacingAndGlyphs" >(15,9)</text>
<line x1="472.5" y1="447" x2="472.5" y2="490" stroke-width="1.35" />
<line x1="320" y1="465.5" x2="343" y2="465.5" stroke-width="1.35" />
<line x1="427" y1="465.5" x2="445" y2="465.5" stroke-width="1.35" />
<polygon points="320,465.6 331.4,463.4 331.4,467.8" fill="#000" stroke="none"/>
<polygon points="445,465.6 433.6,467.8 433.6,463.4" fill="#000" stroke="none"/>
<text x="347.5" y="470.5" font-size="15" textLength="75.5" lengthAdjust="spacingAndGlyphs" >2.00 (50,8)</text>
<line x1="320" y1="486.5" x2="367" y2="486.5" stroke-width="1.35" />
<line x1="447" y1="486.5" x2="472.9" y2="486.5" stroke-width="1.35" />
<polygon points="320,486 331.4,483.8 331.4,488.2" fill="#000" stroke="none"/>
<polygon points="472.9,486 461.5,488.2 461.5,483.8" fill="#000" stroke="none"/>
<text x="370.6" y="490.6" font-size="15" textLength="73.4" lengthAdjust="spacingAndGlyphs" >2.44 (62,0)</text>
<text x="372" y="382.5" font-size="15" textLength="144" lengthAdjust="spacingAndGlyphs" >3/8-24 UNF THREAD</text>
<polyline points="370.5,377 362,377 351.5,405" fill="none" stroke-width="1.35" />
<polygon points="350.4,411.7 351.55,402.59 354.96,403.73" fill="#000" stroke="none"/>
<text x="199" y="514.6" font-size="15" textLength="295.5" lengthAdjust="spacingAndGlyphs" >*MUSTANG PUSH ROD - EYELET DETAIL</text>
<text x="197.7" y="561.4" font-size="21.7" textLength="604.3" lengthAdjust="spacingAndGlyphs" >Compact Tandem Master Cylinder Dimensional Characteristics</text>
<path d="M31.699999999999996,659.6 Q38.8,658.2 53.8,659.8 Q66.8,661.5 78.8,660 Q90.8,658.3 103.8,659.8 Q118.8,661.2 126.19999999999999,659.6 Q130.2,659.6 130.2,664 L130.2,698 Q130.2,702.4 125.8,702.4 L32.099999999999994,702.4 Q27.699999999999996,702.4 27.699999999999996,698 L27.699999999999996,664 Q27.699999999999996,659.6 31.699999999999996,659.6 Z" fill="#fff" stroke-width="1.35" />
<line x1="30.5" y1="660.5" x2="30.5" y2="702" stroke-width="0.9" />
<line x1="32.5" y1="660.5" x2="32.5" y2="702" stroke-width="0.9" />
<line x1="53.5" y1="660.5" x2="53.5" y2="702" stroke-width="0.9" />
<line x1="56.5" y1="660.5" x2="56.5" y2="702" stroke-width="0.9" />
<line x1="61.5" y1="660.5" x2="61.5" y2="702" stroke-width="0.9" />
<line x1="64.5" y1="660.5" x2="64.5" y2="702" stroke-width="0.9" />
<line x1="92.5" y1="660.5" x2="92.5" y2="702" stroke-width="0.9" />
<line x1="95.5" y1="660.5" x2="95.5" y2="702" stroke-width="0.9" />
<line x1="101.5" y1="660.5" x2="101.5" y2="702" stroke-width="0.9" />
<line x1="104.5" y1="660.5" x2="104.5" y2="702" stroke-width="0.9" />
<line x1="123.5" y1="660.5" x2="123.5" y2="702" stroke-width="0.9" />
<line x1="126.5" y1="660.5" x2="126.5" y2="702" stroke-width="0.9" />
<line x1="27.8" y1="694.5" x2="130.1" y2="694.5" stroke-width="0.9" />
<line x1="27.8" y1="697.5" x2="130.1" y2="697.5" stroke-width="0.9" />
<line x1="70.8" y1="664.5" x2="76.8" y2="664.5" stroke-width="0.9" />
<line x1="80.8" y1="664.5" x2="86.8" y2="664.5" stroke-width="0.9" />
<rect x="51.5" y="702.5" width="55" height="15" rx="1.5" fill="#fff" stroke-width="1.35" />
<line x1="62.5" y1="717.4" x2="62.5" y2="761" stroke-width="1.35" />
<line x1="95.5" y1="717.4" x2="95.5" y2="761" stroke-width="1.35" />
<path d="M41.0,829.3 L43.699999999999996,768 Q43.699999999999996,761 50.8,761 L106.8,761 Q114.69999999999999,761 114.69999999999999,768 L116.5,829.3" fill="none" stroke-width="1.35" />
<rect x="41.5" y="829.5" width="75" height="25" rx="2" fill="#fff" stroke-width="1.35" />
<path d="M41.0,829.3 Q48.8,824.3 59.8,829.3 Q70.8,834.3 78.8,829.3 Q86.8,824.3 97.8,829.3 Q108.8,834.3 116.6,829.3" fill="none" stroke-width="0.9" />
<path d="M41.0,832.0 Q50.8,828.0 59.8,832.0 Q70.8,836.5 78.8,832.0 Q86.8,828.0 97.8,832.0 Q106.8,836.5 116.6,832.0" fill="none" stroke-width="0.9" />
<path d="M41.0,852.0 Q59.8,856.0 78.8,852.0 Q97.8,856.0 116.6,852.0" fill="none" stroke-width="0.9" />
<path d="M44.8,854.8 Q44.8,861 50.8,861 L106.8,861 Q112.8,861 112.8,854.8" fill="none" stroke-width="0.9" />
<line x1="77.5" y1="830" x2="77.5" y2="855" stroke-width="0.9" />
<line x1="80.5" y1="830" x2="80.5" y2="855" stroke-width="0.9" />
<rect x="22.5" y="861.5" width="20" height="57" rx="3" fill="none" stroke-width="1.35" />
<rect x="115.5" y="861.5" width="20" height="57" rx="3" fill="none" stroke-width="1.35" />
<rect x="22.5" y="978.5" width="113" height="57" rx="3" fill="none" stroke-width="1.35" />
<rect x="37.5" y="861.5" width="83" height="117" rx="2" fill="#fff" stroke-width="1.35" />
<path d="M46.4,873.5 L46.4,931 M111.2,873.5 L111.2,931" fill="none" stroke-width="1.35" />
<path d="M46.4,873.5 A32.4,11.6 0 0 1 111.2,873.5" fill="none" stroke-width="1.35" />
<path d="M58.3,873 A20.5,5.6 0 0 1 99.3,873" fill="none" stroke-width="0.9" />
<ellipse cx="78.8" cy="890" rx="32.4" ry="14.5" fill="#fff" stroke-width="1.35" />
<ellipse cx="78.8" cy="888.7" rx="21.4" ry="11.4" fill="none" stroke-width="0.9" />
<ellipse cx="78.8" cy="888.7" rx="16.8" ry="8.2" fill="none" stroke-width="1.5" />
<ellipse cx="78.8" cy="888.7" rx="14.1" ry="5.5" fill="none" stroke-width="0.9" />
<polygon points="121.3,955.6 100.05,992.41 57.55,992.41 36.3,955.6 57.55,918.79 100.05,918.79" fill="#fff" stroke-width="1.35" />
<path d="M57.8,918.8000000000001 Q78.8,911.6 99.8,918.8000000000001" fill="none" stroke-width="0.9" />
<path d="M57.8,992.4 Q78.8,999.6 99.8,992.4" fill="none" stroke-width="0.9" />
<circle cx="78.8" cy="955.6" r="37.8" fill="#fff" stroke-width="1.6" />
<circle cx="78.8" cy="955.6" r="35.6" fill="none" stroke-width="0.9" />
<circle cx="78.8" cy="955.6" r="25.9" fill="none" stroke-width="1.3" />
<circle cx="78.8" cy="955.6" r="24" fill="none" stroke-width="0.9" />
<rect x="68.5" y="939.5" width="21" height="3" rx="1.2" fill="none" stroke-width="0.9" />
<rect x="68.5" y="969.5" width="21" height="3" rx="1.2" fill="none" stroke-width="0.9" />
<path d="M48,993 L109.5,993 Q111.5,993 111.5,996 Q113,1018 111.5,1041 Q111.5,1044 108,1044 Q78.8,1047.5 49.5,1044 Q46.4,1044 46.4,1041 Q45,1018 46.4,996 Q46.4,993 48,993 Z" fill="#fff" stroke-width="1.35" />
<path d="M46.4,1035.6 Q78.8,1040 111.5,1035.6" fill="none" stroke-width="0.9" />
<line x1="78.5" y1="646.4" x2="78.5" y2="702.8" stroke-width="1.0" />
<line x1="78.5" y1="711" x2="78.5" y2="718" stroke-width="1.0" />
<line x1="78.5" y1="727" x2="78.5" y2="822" stroke-width="1.0" />
<line x1="78.5" y1="855" x2="78.5" y2="932" stroke-width="1.0" />
<line x1="78.5" y1="932" x2="78.5" y2="980" stroke-width="1.0" stroke-dasharray="12 4 4 4" stroke="#000"/>
<line x1="78.5" y1="980" x2="78.5" y2="1056" stroke-width="1.0" />
<line x1="18.2" y1="889.5" x2="140.2" y2="889.5" stroke-width="1.0" />
<line x1="15.5" y1="1006.5" x2="142.9" y2="1006.5" stroke-width="1.0" stroke-dasharray="31 5 9 5 400" stroke="#000"/>
<line x1="23.5" y1="922" x2="23.5" y2="975" stroke-width="1.0" stroke-dasharray="20 4"/>
<line x1="135.5" y1="922" x2="135.5" y2="975" stroke-width="1.0" stroke-dasharray="20 4"/>
<line x1="23.5" y1="1037" x2="23.5" y2="1090.2" stroke-width="1.35" />
<line x1="134.5" y1="1037" x2="134.5" y2="1090.2" stroke-width="1.35" />
<line x1="23" y1="1085.5" x2="41.5" y2="1085.5" stroke-width="1.35" />
<line x1="115" y1="1085.5" x2="134.6" y2="1085.5" stroke-width="1.35" />
<polygon points="23,1085 36.4,1082.6 36.4,1087.4" fill="#000" stroke="none"/>
<polygon points="134.6,1085 121.2,1087.4 121.2,1082.6" fill="#000" stroke="none"/>
<text x="43.6" y="1081.1" font-size="15" textLength="72.1" lengthAdjust="spacingAndGlyphs" >1.30 (33,0)</text>
<text x="43.6" y="1099.3" font-size="15" textLength="71.4" lengthAdjust="spacingAndGlyphs" >2 PLACES</text>
<text x="206" y="763.6" font-size="15" textLength="173.8" lengthAdjust="spacingAndGlyphs" >3/8-24 FEMALE THREAD</text>
<text x="206" y="779" font-size="15" textLength="129" lengthAdjust="spacingAndGlyphs" >INVERTED FLARE</text>
<text x="206" y="794" font-size="15" textLength="72" lengthAdjust="spacingAndGlyphs" >5 PLACES</text>
<polyline points="198,759.6 193,759.6 108,875" fill="none" stroke-width="1.35" />
<polygon points="103.3,881.5 107.62,872.26 110.84,874.63" fill="#000" stroke="none"/>
<path d="M702.4,659.6 Q709.5,658.2 724.5,659.8 Q737.5,661.5 749.5,660 Q761.5,658.3 774.5,659.8 Q789.5,661.2 796.9,659.6 Q800.9,659.6 800.9,664 L800.9,698 Q800.9,702.4 796.5,702.4 L702.8,702.4 Q698.4,702.4 698.4,698 L698.4,664 Q698.4,659.6 702.4,659.6 Z" fill="#fff" stroke-width="1.35" />
<line x1="700.5" y1="660.5" x2="700.5" y2="702" stroke-width="0.9" />
<line x1="703.5" y1="660.5" x2="703.5" y2="702" stroke-width="0.9" />
<line x1="724.5" y1="660.5" x2="724.5" y2="702" stroke-width="0.9" />
<line x1="727.5" y1="660.5" x2="727.5" y2="702" stroke-width="0.9" />
<line x1="732.5" y1="660.5" x2="732.5" y2="702" stroke-width="0.9" />
<line x1="735.5" y1="660.5" x2="735.5" y2="702" stroke-width="0.9" />
<line x1="763.5" y1="660.5" x2="763.5" y2="702" stroke-width="0.9" />
<line x1="766.5" y1="660.5" x2="766.5" y2="702" stroke-width="0.9" />
<line x1="772.5" y1="660.5" x2="772.5" y2="702" stroke-width="0.9" />
<line x1="775.5" y1="660.5" x2="775.5" y2="702" stroke-width="0.9" />
<line x1="794.5" y1="660.5" x2="794.5" y2="702" stroke-width="0.9" />
<line x1="797.5" y1="660.5" x2="797.5" y2="702" stroke-width="0.9" />
<line x1="698.5" y1="694.5" x2="800.8" y2="694.5" stroke-width="0.9" />
<line x1="698.5" y1="697.5" x2="800.8" y2="697.5" stroke-width="0.9" />
<line x1="741.5" y1="664.5" x2="747.5" y2="664.5" stroke-width="0.9" />
<line x1="751.5" y1="664.5" x2="757.5" y2="664.5" stroke-width="0.9" />
<rect x="722.5" y="702.5" width="54" height="15" rx="1.5" fill="#fff" stroke-width="1.35" />
<line x1="733.5" y1="717.4" x2="733.5" y2="761" stroke-width="1.35" />
<line x1="765.5" y1="717.4" x2="765.5" y2="761" stroke-width="1.35" />
<path d="M711.7,829.3 L714.4,768 Q714.4,761 721.5,761 L777.5,761 Q785.4,761 785.4,768 L787.2,829.3" fill="none" stroke-width="1.35" />
<rect x="706.5" y="832.5" width="86" height="23" rx="2" fill="#fff" stroke-width="1.35" />
<path d="M706.4,834.2 Q717.15,828.2 727.9,834.2 Q749.5,828.2 771.1,834.2 Q781.85,828.2 792.6,834.2" fill="none" stroke-width="0.9" />
<path d="M706.4,853 Q717.15,858 727.9,853 Q749.5,858 771.1,853 Q781.85,858 792.6,853" fill="none" stroke-width="0.9" />
<line x1="727.5" y1="833.2" x2="727.5" y2="854" stroke-width="0.9" />
<line x1="729.5" y1="833.2" x2="729.5" y2="854" stroke-width="0.9" />
<line x1="769.5" y1="833.2" x2="769.5" y2="854" stroke-width="0.9" />
<line x1="771.5" y1="833.2" x2="771.5" y2="854" stroke-width="0.9" />
<path d="M715.5,855 Q715.5,861 721.5,861 L777.5,861 Q783.5,861 783.5,855" fill="none" stroke-width="0.9" />
<path d="M551.4,923.3 L533,923.3 Q528.3,923.3 528.3,928 L528.3,985 Q528.3,990 533,990 L545,990" fill="#fff" stroke-width="1.35" />
<line x1="530.5" y1="926" x2="530.5" y2="988" stroke-width="0.8" />
<path d="M533,990 Q545,980 578,977.5 L592,977" fill="none" stroke-width="1.35" />
<path d="M634,977 L680,976.5 Q692,977 697,984 L700,990 Q703,992 706,986 L709,980" fill="none" stroke-width="1.35" />
<path d="M588,938 L685,938 A17,17 0 0 1 685,972 L588,972 Q584,972 584,968 L584,942 Q584,938 588,938 Z" fill="none" stroke-width="1.35" />
<path d="M590,940.5 L685,940.5 A14.5,14.5 0 0 1 685,969.5 L590,969.5" fill="none" stroke-width="0.8" />
<path d="M551.4,923.3 Q556,921 555.8,918 L554.7,915 L549.5,904.5 Q549.2,902.8 551,902 L602.5,872.6 Q604.6,871.8 605.9,873.8 L617.4,894.7 Q619,897.5 622,897.5" fill="#fff" stroke-width="1.35" />
<line x1="550.5" y1="905.3" x2="603.5" y2="875" stroke-width="0.8" />
<path d="M614.7,894.2 Q618,899 620.7,905.7 Q626,914 624,920 Q621,927 610.8,932.1 Q600,937.5 586.6,940.9" fill="none" stroke-width="1.35" />
<path d="M617.6,896 Q622,902 624.5,907 Q629,915 627,922 Q624,929.5 613,935 Q602,940 590,943.5" fill="none" stroke-width="0.8" />
<path d="M554.7,918.9 L574.5,931 Q581,935 586.6,940.9" fill="none" stroke-width="1.35" />
<path d="M557.5,917 L577,929 Q583.5,933.5 589,939" fill="none" stroke-width="0.8" />
<line x1="602" y1="934.3" x2="605.6" y2="941.3" stroke-width="0.8" />
<line x1="605.2" y1="932.7" x2="608.6" y2="939.8" stroke-width="0.8" />
<path d="M614.6,893.6 Q617,902 624,902 L640,902 Q646,899 646.8,893.6" fill="none" stroke-width="1.35" />
<line x1="626.5" y1="896.5" x2="626.5" y2="902" stroke-width="0.8" />
<line x1="638.5" y1="896.5" x2="638.5" y2="902" stroke-width="0.8" />
<g transform="translate(584.4,901.3) rotate(-30)">
<g transform="translate(-4.6,-4.2) rotate(0)">
<path d="M0,0 L0,8.4 M0,0 L5,0 M0,4.2 L4,4.2 M8.2,0 L8.2,8.4 " fill="none" stroke-width="2.8" stroke-linejoin="round" stroke-linecap="round"/>
<path d="M0,0 L0,8.4 M0,0 L5,0 M0,4.2 L4,4.2 M8.2,0 L8.2,8.4 " fill="none" stroke-width="0.9" stroke="#fff" stroke-linejoin="round" stroke-linecap="round"/>
</g>
</g>
<path d="M580,993 L540,993 Q536,993 536,997 L536,1034 Q536,1038 541,1038 L592,1038" fill="#fff" stroke-width="1.35" />
<path d="M643,993 L683,993 Q687,993 687,997 L687,1034 Q687,1038 682,1038 L631,1038" fill="#fff" stroke-width="1.35" />
<path d="M541,1035 Q565,1033 592,1036 M631,1036 Q658,1033 682,1035" fill="none" stroke-width="0.8" />
<rect x="601.5" y="970.5" width="20" height="9" rx="2.5" fill="#fff" stroke-width="1.35" />
<circle cx="611.6" cy="1006.8" r="35.7" fill="#fff" stroke-width="1.35" />
<circle cx="611.6" cy="1006.8" r="28.9" fill="none" stroke-width="1.35" />
<circle cx="611.6" cy="1006.8" r="26.4" fill="none" stroke-width="0.9" />
<line x1="590.12" y1="987.46" x2="585.07" y2="982.91" stroke-width="0.9" />
<line x1="633.08" y1="987.46" x2="638.13" y2="982.91" stroke-width="0.9" />
<line x1="633.08" y1="1026.14" x2="638.13" y2="1030.69" stroke-width="0.9" />
<line x1="590.12" y1="1026.14" x2="585.07" y2="1030.69" stroke-width="0.9" />
<circle cx="611.6" cy="1006.8" r="15.3" fill="none" stroke-width="1.35" />
<line x1="604" y1="1006.5" x2="619" y2="1006.5" stroke-width="0.9" />
<line x1="611.5" y1="999" x2="611.5" y2="1015" stroke-width="0.9" />
<g transform="translate(559.4,1018.4) rotate(0)">
<path d="M0,0 L0,8.2 M0,0 L5,0 M0,4.1 L4,4.1 M16.4,4.1 A4.1,4.1 0 1 0 16.4,4.11 " fill="none" stroke-width="2.8" stroke-linejoin="round" stroke-linecap="round"/>
<path d="M0,0 L0,8.2 M0,0 L5,0 M0,4.1 L4,4.1 M16.4,4.1 A4.1,4.1 0 1 0 16.4,4.11 " fill="none" stroke-width="0.9" stroke="#fff" stroke-linejoin="round" stroke-linecap="round"/>
</g>
<g transform="translate(647.4,1018.4) rotate(0)">
<path d="M0,0 L0,8.2 M0,0 L5,0 M0,4.1 L4,4.1 M16.4,4.1 A4.1,4.1 0 1 0 16.4,4.11 " fill="none" stroke-width="2.8" stroke-linejoin="round" stroke-linecap="round"/>
<path d="M0,0 L0,8.2 M0,0 L5,0 M0,4.1 L4,4.1 M16.4,4.1 A4.1,4.1 0 1 0 16.4,4.11 " fill="none" stroke-width="0.9" stroke="#fff" stroke-linejoin="round" stroke-linecap="round"/>
</g>
<path d="M709.1,861 L784.6,861" fill="none" stroke-width="1.35" />
<path d="M709.1,861 L712.8,925 L712.8,983.8 Q714,992 717.3,996.5 L781.9,996.5 Q788,992 790,983.8 L790,936.5" fill="#fff" stroke-width="1.35" />
<line x1="713.7" y1="981.5" x2="789" y2="981.5" stroke-width="0.9" />
<line x1="709.5" y1="922" x2="709.5" y2="983" stroke-width="0.9" />
<path d="M709.8,861.7 Q714,880 716,902.3 L716,913 Q715.5,919 713.4,921.2 Q711,921 708.9,922 L686,934.5 Q682,936.5 676,937 Q671,937.5 668,934 L643.5,894.5" fill="#fff" stroke-width="1.35" />
<path d="M643.6,892.3 L697.2,861.7 Q699,861 699.9,865.3 C703,874 707,888 709.8,902.3 L709.8,911.3 Q709,916 707,918.5 L681.8,931 Q676,933 672.8,932 Q670,931.5 669.2,930.2 L646.7,894 Z" fill="#fff" stroke-width="1.35" />
<line x1="645.2" y1="894.6" x2="698" y2="864.3" stroke-width="0.8" />
<path d="M697.2,861.7 Q701,865 705.3,864.4 Q708,863 709.8,860.8" fill="none" stroke-width="0.9" />
<line x1="710.7" y1="904.5" x2="716" y2="904.5" stroke-width="0.8" />
<g transform="translate(677,891) rotate(-30)">
<g transform="translate(-4.2,-4.2) rotate(0)">
<path d="M0,8.4 L0,0 L2.9,0 A2.1,2.1 0 0 1 2.9,4.2 L0,4.2 M2.6,4.2 L5,8.4 M8.6,0 L8.6,8.4 " fill="none" stroke-width="2.8" stroke-linejoin="round" stroke-linecap="round"/>
<path d="M0,8.4 L0,0 L2.9,0 A2.1,2.1 0 0 1 2.9,4.2 L0,4.2 M2.6,4.2 L5,8.4 M8.6,0 L8.6,8.4 " fill="none" stroke-width="0.9" stroke="#fff" stroke-linejoin="round" stroke-linecap="round"/>
</g>
</g>
<rect x="717.5" y="996.5" width="64" height="49" rx="2" fill="#fff" stroke-width="1.35" />
<line x1="717.3" y1="1001.5" x2="781.9" y2="1001.5" stroke-width="0.9" />
<path d="M717.3,1043 Q749.6,1040 781.9,1043" fill="none" stroke-width="0.8" />
<g transform="translate(740.6,1026.2) rotate(0)">
<path d="M0,8.6 L0,0 L2.9,0 A2.15,2.15 0 0 1 2.9,4.3 L0,4.3 M2.6,4.3 L5,8.6 M17.2,4.3 A4.3,4.3 0 1 0 17.2,4.31 " fill="none" stroke-width="2.8" stroke-linejoin="round" stroke-linecap="round"/>
<path d="M0,8.6 L0,0 L2.9,0 A2.15,2.15 0 0 1 2.9,4.3 L0,4.3 M2.6,4.3 L5,8.6 M17.2,4.3 A4.3,4.3 0 1 0 17.2,4.31 " fill="none" stroke-width="0.9" stroke="#fff" stroke-linejoin="round" stroke-linecap="round"/>
</g>
<path d="M755.3,874.2 L748.9,874.2 A4.600000000000023,4.600000000000023 0 0 0 748.9,883.4000000000001 L752,883.4000000000001 M748.9,883.4000000000001 A4.600000000000023,4.600000000000023 0 0 0 748.9,892.6 L755.3,892.6 M744.3,899.6 L752.8,899.6 M744.3,905.2 L760.2,905.2 M755.3,911 L749.4499999999999,911 A5.149999999999977,5.149999999999977 0 0 0 749.4499999999999,921.3 L752,921.3 M749.4499999999999,921.3 A5.149999999999977,5.149999999999977 0 0 0 749.4499999999999,931.6 L755.3,931.6 M749.6,935.4 A5.2,5.2 0 1 0 749.61,935.4 M749.6,946.4 A5.2,5.2 0 1 0 749.61,946.4 M749.6,958.8 A5.2,5.2 0 1 0 749.61,958.8 M760.2,970.3 L744.3,970.3" fill="none" stroke-width="3.7" stroke-linecap="round"/>
<path d="M755.3,874.2 L748.9,874.2 A4.600000000000023,4.600000000000023 0 0 0 748.9,883.4000000000001 L752,883.4000000000001 M748.9,883.4000000000001 A4.600000000000023,4.600000000000023 0 0 0 748.9,892.6 L755.3,892.6 M744.3,899.6 L752.8,899.6 M744.3,905.2 L760.2,905.2 M755.3,911 L749.4499999999999,911 A5.149999999999977,5.149999999999977 0 0 0 749.4499999999999,921.3 L752,921.3 M749.4499999999999,921.3 A5.149999999999977,5.149999999999977 0 0 0 749.4499999999999,931.6 L755.3,931.6 M749.6,935.4 A5.2,5.2 0 1 0 749.61,935.4 M749.6,946.4 A5.2,5.2 0 1 0 749.61,946.4 M749.6,958.8 A5.2,5.2 0 1 0 749.61,958.8 M760.2,970.3 L744.3,970.3" fill="none" stroke-width="1.6" stroke="#fff" stroke-linecap="round"/>
<circle cx="758.3" cy="899.6" r="1.9" fill="#fff" stroke-width="0.8" />
<path d="M784.6,861 Q770,872 768,889 Q768,905 782,916 L786.5,936.5 L790,936.5" fill="#fff" stroke-width="1.35" />
<path d="M786.5,918 Q788,926 787,935 Q800,925 820,912" fill="none" stroke-width="0.9" />
<circle cx="804.7" cy="889.1" r="29.6" fill="#fff" stroke-width="1.35" />
<circle cx="804.7" cy="889.1" r="26.8" fill="none" stroke-width="0.9" />
<circle cx="804.7" cy="889.1" r="15.5" fill="none" stroke-width="1.35" />
<line x1="796" y1="889.5" x2="813" y2="889.5" stroke-width="0.9" />
<line x1="804.5" y1="881" x2="804.5" y2="897" stroke-width="0.9" />
<rect x="410.5" y="939.5" width="40" height="3" rx="1.2" fill="none" stroke-width="0.9" />
<rect x="410.5" y="969.5" width="40" height="3" rx="1.2" fill="none" stroke-width="0.9" />
<path d="M463.1,929.4 L455,929.4 Q450.1,929.4 450.1,934 L450.1,977.3 Q450.1,981.9 455,981.9 L463.1,981.9" fill="#fff" stroke-width="1.35" />
<line x1="453.5" y1="930" x2="453.5" y2="981" stroke-width="0.8" />
<path d="M487.6,921 L466,922.5 Q463.1,922.5 463.1,926 L463.1,987.5 Q463.1,991 466,991 L487.6,992.5 Z" fill="#fff" stroke-width="1.35" />
<line x1="466.5" y1="923" x2="466.5" y2="990.5" stroke-width="0.8" />
<rect x="487.5" y="918.5" width="34" height="75" rx="0" fill="#fff" stroke-width="1.35" />
<path d="M490,918.5 Q493,937 490,956 Q493,975 490,993" fill="none" stroke-width="0.9" />
<path d="M519.5,918.5 Q516.5,937 519.5,956 Q516.5,975 519.5,993" fill="none" stroke-width="0.9" />
<rect x="521.5" y="937.5" width="7" height="36" rx="0" fill="#fff" stroke-width="1.35" />
<line x1="524.5" y1="938" x2="524.5" y2="973" stroke-width="0.8" />
<line x1="405" y1="956.5" x2="594" y2="956.5" stroke-width="1.35" />
<text x="356" y="833.6" font-size="15" textLength="82" lengthAdjust="spacingAndGlyphs" >PRESSURE</text>
<text x="356" y="848.4" font-size="15" textLength="59" lengthAdjust="spacingAndGlyphs" >SWITCH</text>
<text x="356" y="863.6" font-size="15" textLength="76" lengthAdjust="spacingAndGlyphs" >1/8-27 NPT</text>
<polyline points="441,827 448,827 501.5,913.5" fill="none" stroke-width="1.35" />
<polygon points="503.7,918.2 496.78,910.71 500.19,908.62" fill="#000" stroke="none"/>
<line x1="288" y1="877.5" x2="666" y2="877.5" stroke-width="1.35" />
<line x1="373" y1="888.5" x2="572" y2="888.5" stroke-width="1.35" />
<line x1="284" y1="956.5" x2="405" y2="956.5" stroke-width="1.35" />
<line x1="288" y1="1038.5" x2="536" y2="1038.5" stroke-width="1.35" />
<line x1="293.5" y1="877.6" x2="293.5" y2="897" stroke-width="1.35" />
<line x1="293.5" y1="936" x2="293.5" y2="956" stroke-width="1.35" />
<polygon points="293.6,877.6 296,891 291.2,891" fill="#000" stroke="none"/>
<polygon points="293.6,956 291.2,942.6 296,942.6" fill="#000" stroke="none"/>
<text x="283" y="913" font-size="15" textLength="19" lengthAdjust="spacingAndGlyphs" >.91</text>
<text x="273" y="932" font-size="15" textLength="39" lengthAdjust="spacingAndGlyphs" >(23,2)</text>
<line x1="293.5" y1="956" x2="293.5" y2="978" stroke-width="1.35" />
<line x1="293.5" y1="1017" x2="293.5" y2="1038" stroke-width="1.35" />
<polygon points="293.6,956 296,969.4 291.2,969.4" fill="#000" stroke="none"/>
<polygon points="293.6,1038 291.2,1024.6 296,1024.6" fill="#000" stroke="none"/>
<text x="283" y="992" font-size="15" textLength="19" lengthAdjust="spacingAndGlyphs" >.96</text>
<text x="273" y="1011" font-size="15" textLength="39" lengthAdjust="spacingAndGlyphs" >(24,4)</text>
<line x1="378.5" y1="888" x2="378.5" y2="913" stroke-width="1.35" />
<line x1="378.5" y1="931" x2="378.5" y2="956" stroke-width="1.35" />
<polygon points="378.6,888 381,901.4 376.2,901.4" fill="#000" stroke="none"/>
<polygon points="378.6,956 376.2,942.6 381,942.6" fill="#000" stroke="none"/>
<text x="345" y="926" font-size="15" textLength="64" lengthAdjust="spacingAndGlyphs" >.79 (20,0)</text>
<line x1="698.5" y1="610.4" x2="698.5" y2="656" stroke-width="1.35" />
<line x1="800.5" y1="610.4" x2="800.5" y2="656" stroke-width="1.35" />
<line x1="666.3" y1="615.5" x2="698.8" y2="615.5" stroke-width="1.35" />
<polygon points="698.8,615.6 685.4,618 685.4,613.2" fill="#000" stroke="none"/>
<line x1="800.7" y1="615.5" x2="832.7" y2="615.5" stroke-width="1.35" />
<polygon points="800.7,615.6 814.1,613.2 814.1,618" fill="#000" stroke="none"/>
<text x="712.3" y="620.3" font-size="15" textLength="72.8" lengthAdjust="spacingAndGlyphs" >1.25 (31,8)</text>
<line x1="646.3" y1="639.5" x2="749.5" y2="639.5" stroke-width="1.35" />
<polygon points="670.2,639 683.6,636.6 683.6,641.4" fill="#000" stroke="none"/>
<polygon points="749.5,639 736.1,641.4 736.1,636.6" fill="#000" stroke="none"/>
<line x1="670.5" y1="633.3" x2="670.5" y2="872" stroke-width="1.35" />
<text x="622" y="643.7" font-size="15" textLength="19.6" lengthAdjust="spacingAndGlyphs" >.93</text>
<text x="622" y="663.2" font-size="15" textLength="39.1" lengthAdjust="spacingAndGlyphs" >(23,5)</text>
<line x1="803" y1="659.5" x2="965.8" y2="659.5" stroke-width="1.35" />
<line x1="784" y1="1045.5" x2="965.5" y2="1045.5" stroke-width="1.35" />
<line x1="960.5" y1="659" x2="960.5" y2="699.4" stroke-width="1.35" />
<line x1="960.5" y1="742.6" x2="960.5" y2="1045.9" stroke-width="1.35" />
<polygon points="960.5,659 962.9,672.4 958.1,672.4" fill="#000" stroke="none"/>
<polygon points="960.5,1045.9 958.1,1032.5 962.9,1032.5" fill="#000" stroke="none"/>
<text x="959.8" y="717.4" font-size="15" text-anchor="middle" textLength="29.3" lengthAdjust="spacingAndGlyphs" >4.43</text>
<text x="960.3" y="736.3" font-size="15" text-anchor="middle" textLength="47.5" lengthAdjust="spacingAndGlyphs" >(112,4)</text>
<text x="838.5" y="809.7" font-size="15" textLength="55.9" lengthAdjust="spacingAndGlyphs" >.35 (8,8)</text>
<text x="838.5" y="824.6" font-size="15" textLength="41" lengthAdjust="spacingAndGlyphs" >THRU</text>
<text x="838.5" y="839.6" font-size="15" textLength="71.5" lengthAdjust="spacingAndGlyphs" >2 PLACES</text>
<polyline points="837.7,803.4 831,803.4 803,897" fill="none" stroke-width="1.35" />
<polygon points="801.2,902.8 802.06,893.66 805.51,894.7" fill="#000" stroke="none"/>
<line x1="796" y1="889.5" x2="919.7" y2="889.5" stroke-width="1.35" />
<line x1="627" y1="1007.5" x2="919.7" y2="1007.5" stroke-width="1.35" />
<line x1="913.5" y1="889.1" x2="913.5" y2="926.3" stroke-width="1.35" />
<line x1="913.5" y1="968.8" x2="913.5" y2="1007" stroke-width="1.35" />
<polygon points="913.6,889.1 916,902.5 911.2,902.5" fill="#000" stroke="none"/>
<polygon points="913.6,1007 911.2,993.6 916,993.6" fill="#000" stroke="none"/>
<text x="913.5" y="944.2" font-size="15" text-anchor="middle" textLength="27.9" lengthAdjust="spacingAndGlyphs" >1.37</text>
<text x="912.9" y="963.2" font-size="15" text-anchor="middle" textLength="40.2" lengthAdjust="spacingAndGlyphs" >(34,7)</text>
<line x1="913.5" y1="1045.9" x2="913.5" y2="1060" stroke-width="1.35" />
<polygon points="913.6,1045.9 916,1059.3 911.2,1059.3" fill="#000" stroke="none"/>
<text x="915" y="1022.4" font-size="15" text-anchor="middle" textLength="20" lengthAdjust="spacingAndGlyphs" >.46</text>
<text x="912.9" y="1041.4" font-size="15" text-anchor="middle" textLength="40.2" lengthAdjust="spacingAndGlyphs" >(11,6)</text>
<line x1="532" y1="811" x2="581" y2="894" stroke-width="1.0" stroke-dasharray="40 4 6 4" stroke="#000"/>
<line x1="608" y1="772" x2="675" y2="889" stroke-width="1.0" stroke-dasharray="40 4 6 4" stroke="#000"/>
<line x1="534.5" y1="813.5" x2="552" y2="806" stroke-width="1.35" />
<polygon points="534.5,813.5 542.9,807.72 544.48,811.4" fill="#000" stroke="none"/>
<line x1="608.5" y1="773" x2="593" y2="781.5" stroke-width="1.35" />
<polygon points="608.5,773 600.69,779.56 598.77,776.05" fill="#000" stroke="none"/>
<text x="562" y="793" font-size="15" textLength="28" lengthAdjust="spacingAndGlyphs" >1.00</text>
<text x="556" y="811.6" font-size="15" textLength="40" lengthAdjust="spacingAndGlyphs" >(25,4)</text>
<line x1="410.5" y1="976.3" x2="410.5" y2="1166" stroke-width="1.35" />
<line x1="527.5" y1="991" x2="527.5" y2="1141" stroke-width="1.35" />
<line x1="567.5" y1="1017" x2="567.5" y2="1106.6" stroke-width="1.35" />
<line x1="611.5" y1="1040" x2="611.5" y2="1069" stroke-width="1.35" />
<line x1="655.5" y1="1000" x2="655.5" y2="1106.6" stroke-width="1.35" />
<line x1="749.5" y1="1047" x2="749.5" y2="1106.6" stroke-width="1.35" />
<line x1="805.5" y1="881" x2="805.5" y2="1088.6" stroke-width="1.35" />
<line x1="835.5" y1="889" x2="835.5" y2="1166" stroke-width="1.35" />
<line x1="611.8" y1="1065.5" x2="660.4" y2="1065.5" stroke-width="1.35" />
<line x1="745" y1="1065.5" x2="805.1" y2="1065.5" stroke-width="1.35" />
<polygon points="611.8,1065.2 625.2,1062.8 625.2,1067.6" fill="#000" stroke="none"/>
<polygon points="805.1,1065.2 791.7,1067.6 791.7,1062.8" fill="#000" stroke="none"/>
<text x="665.8" y="1070.6" font-size="15" textLength="73.8" lengthAdjust="spacingAndGlyphs" >2.25 (57,1)</text>
<line x1="781" y1="1084.5" x2="805.1" y2="1084.5" stroke-width="1.35" />
<polygon points="805.1,1084.3 791.7,1086.7 791.7,1081.9" fill="#000" stroke="none"/>
<line x1="835.7" y1="1084.5" x2="858.4" y2="1084.5" stroke-width="1.35" />
<polygon points="835.7,1084.3 849.1,1081.9 849.1,1086.7" fill="#000" stroke="none"/>
<text x="859.4" y="1090.5" font-size="15" textLength="20" lengthAdjust="spacingAndGlyphs" >.35</text>
<text x="861" y="1109" font-size="15" textLength="30.5" lengthAdjust="spacingAndGlyphs" >(8,9)</text>
<line x1="567.9" y1="1102.5" x2="585" y2="1102.5" stroke-width="1.35" />
<polygon points="567.9,1102.3 581.3,1099.9 581.3,1104.7" fill="#000" stroke="none"/>
<line x1="638" y1="1102.5" x2="655" y2="1102.5" stroke-width="1.35" />
<polygon points="655,1102.3 641.6,1104.7 641.6,1099.9" fill="#000" stroke="none"/>
<line x1="655" y1="1102.5" x2="672" y2="1102.5" stroke-width="1.35" />
<polygon points="655,1102.3 668.4,1099.9 668.4,1104.7" fill="#000" stroke="none"/>
<line x1="732" y1="1102.5" x2="749.3" y2="1102.5" stroke-width="1.35" />
<polygon points="749.3,1102.3 735.9,1104.7 735.9,1099.9" fill="#000" stroke="none"/>
<text x="598.5" y="1098.7" font-size="15" textLength="27.7" lengthAdjust="spacingAndGlyphs" >1.02</text>
<text x="592" y="1117.4" font-size="15" textLength="39.6" lengthAdjust="spacingAndGlyphs" >(25,8)</text>
<text x="687.4" y="1098.7" font-size="15" textLength="28.8" lengthAdjust="spacingAndGlyphs" >1.10</text>
<text x="682" y="1117.4" font-size="15" textLength="39.6" lengthAdjust="spacingAndGlyphs" >(27,8)</text>
<line x1="527.9" y1="1138.5" x2="598" y2="1138.5" stroke-width="1.35" />
<line x1="808" y1="1138.5" x2="835.7" y2="1138.5" stroke-width="1.35" />
<line x1="598" y1="1138.5" x2="722" y2="1138.5" stroke-width="1.35" />
<polygon points="527.9,1138.6 541.3,1136.2 541.3,1141" fill="#000" stroke="none"/>
<polygon points="835.7,1138.6 822.3,1141 822.3,1136.2" fill="#000" stroke="none"/>
<text x="728.4" y="1143.4" font-size="15" textLength="72.6" lengthAdjust="spacingAndGlyphs" >3.58 (90,8)</text>
<line x1="410.6" y1="1162.5" x2="545" y2="1162.5" stroke-width="1.35" />
<line x1="638" y1="1162.5" x2="835.7" y2="1162.5" stroke-width="1.35" />
<polygon points="410.6,1162 424,1159.6 424,1164.4" fill="#000" stroke="none"/>
<polygon points="835.7,1162 822.3,1164.4 822.3,1159.6" fill="#000" stroke="none"/>
<text x="551.4" y="1167" font-size="15" textLength="80.1" lengthAdjust="spacingAndGlyphs" >4.94 (125,3)</text>
<text x="203.6" y="1199.8" font-size="21.7" textLength="592.7" lengthAdjust="spacingAndGlyphs" >Combination Proportioning Valve Dimensional Characteristics</text>
<line x1="749.5" y1="632.5" x2="749.5" y2="702.8" stroke-width="1.0" />
<line x1="749.5" y1="711" x2="749.5" y2="718" stroke-width="1.0" />
<line x1="749.5" y1="727" x2="749.5" y2="760" stroke-width="1.0" />
<line x1="749.5" y1="768" x2="749.5" y2="781" stroke-width="1.0" />
<line x1="749.5" y1="786" x2="749.5" y2="830" stroke-width="1.0" />
<line x1="749.5" y1="855" x2="749.5" y2="869" stroke-width="1.0" />
<line x1="749.5" y1="975.5" x2="749.5" y2="1047" stroke-width="1.0" />
<line x1="107.5" y1="56.5" x2="366" y2="56.5" stroke-width="0.9" />
<line x1="721" y1="56.5" x2="895.5" y2="56.5" stroke-width="0.9" />
</svg>
</body></html>
